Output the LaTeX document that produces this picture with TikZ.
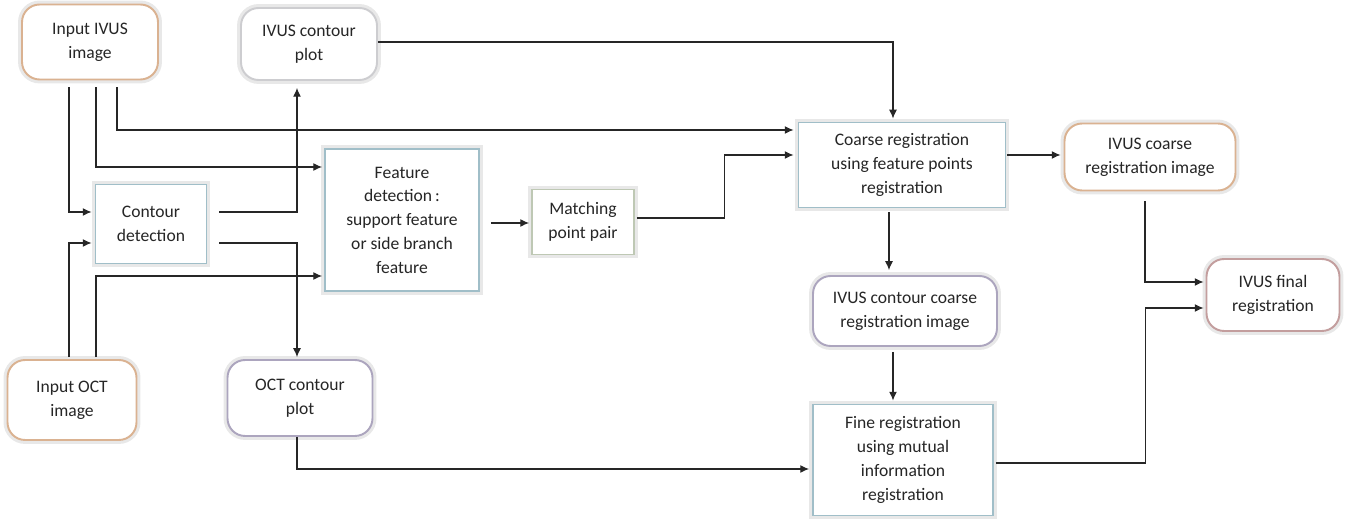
\documentclass[tikz,border=0pt]{standalone}
\usepackage{fontspec}
\setmainfont{Carlito}
\usetikzlibrary{arrows.meta, positioning, calc}
\definecolor{tanline}{RGB}{218, 178, 145}
\definecolor{greyline}{RGB}{205, 205, 208}
\definecolor{lilacline}{RGB}{172, 165, 190}
\definecolor{roseline}{RGB}{195, 158, 158}
\definecolor{tealline}{RGB}{160, 190, 200}
\definecolor{olivline}{RGB}{190, 200, 180}

\begin{document}
\begin{tikzpicture}[x=0.02cm, y=-0.02cm,
  font=\fontsize{10}{13.5}\selectfont, text=black!85,
  rbox/.style={draw=#1, line width=1.1pt, rounded corners=10pt, fill=white,
    preaction={draw=black!9, line width=4.5pt}, align=center, inner sep=2pt},
  sbox/.style={draw=#1, line width=1.1pt, fill=white,
    preaction={draw=black!9, line width=4.5pt}, align=center, inner sep=2pt},
  arr/.style={-{Latex[length=5pt, width=4.5pt]}, line width=0.6pt, black!85}]
  \useasboundingbox (0,0) rectangle (1347,519);

  \node[rbox=tanline, minimum width=2.72cm, minimum height=1.5cm] (ivusin) at (90,42) {Input IVUS\\image};
  \node[rbox=greyline, minimum width=2.72cm, minimum height=1.44cm] (ivusplot) at (309,44) {IVUS contour\\plot};
  \node[sbox=tealline, minimum width=2.22cm, minimum height=1.58cm] (contdet) at (151,224) {Contour\\detection};
  \node[sbox=tealline, minimum width=3.08cm, minimum height=2.84cm] (featdet) at (402,220) {Feature\\detection\,:\\support feature\\or side branch\\feature};
  \node[sbox=olivline, minimum width=2.04cm, minimum height=1.3cm] (match) at (583,222) {Matching\\point pair};
  \node[sbox=tealline, minimum width=4.14cm, minimum height=1.7cm] (coarse) at (902,165) {Coarse registration\\using feature points\\registration};
  \node[rbox=tanline, minimum width=3.42cm, minimum height=1.34cm] (ivuscoarse) at (1150,157) {IVUS coarse\\registration image};
  \node[rbox=lilacline, minimum width=3.68cm, minimum height=1.4cm] (contcoarse) at (905,311) {IVUS contour coarse\\registration image};
  \node[rbox=roseline, minimum width=2.66cm, minimum height=1.44cm] (final) at (1273,295) {IVUS final\\registration};
  \node[rbox=tanline, minimum width=2.58cm, minimum height=1.6cm] (octin) at (72,400) {Input OCT\\image};
  \node[rbox=lilacline, minimum width=2.9cm, minimum height=1.52cm] (octplot) at (300,398) {OCT contour\\plot};
  \node[sbox=tealline, minimum width=3.6cm, minimum height=2.22cm] (fine) at (903,460) {Fine registration\\using mutual\\information\\registration};

  \draw[arr] ($(ivusin.south)+(-21,7)$) |- ($(contdet.west)+(-3,-12)$);
  \draw[arr] ($(ivusin.south)+(6,7)$) |- ($(featdet.west)+(-2,-53)$);
  \draw[arr] ($(ivusin.south)+(27,7)$) |- ($(coarse.west)+(-4,-35)$);
  \draw[arr] ($(contdet.east)+(12,-12)$) -| ($(ivusplot.south)+(-12,7)$);
  \draw[arr] ($(contdet.east)+(12,19)$) -| ($(octplot.north)+(-3,-2)$);
  \draw[arr] ($(octin.north)+(-3,-2)$) |- ($(contdet.west)+(-3,19)$);
  \draw[arr] ($(octin.north)+(24,-2)$) |- ($(featdet.west)+(-2,56)$);
  \draw[arr] ($(featdet.east)+(11,3)$) -- ($(match.west)+(-2,1)$);
  \draw[arr] ($(match.east)+(2,-4)$) -- ++(88,0) |- ($(coarse.west)+(-4,-10)$);
  \draw[arr] ($(ivusplot.east)+(0,-2)$) -| ($(coarse.north)+(-9,-3)$);
  \draw[arr] ($(coarse.east)+(1,-10)$) -- ($(ivuscoarse.west)+(-3,-2)$);
  \draw[arr] ($(coarse.south)+(-13,4)$) -- ($(contcoarse.north)+(-16,-5)$);
  \draw[arr] ($(contcoarse.south)+(-12,5)$) -- ($(fine.north)+(-10,-3)$);
  \draw[arr] ($(octplot.south)+(-3,0)$) |- ($(fine.west)+(-3,9)$);
  \draw[arr] ($(fine.east)+(2,3)$) -- ++(150,0) |- ($(final.west)+(-2,13)$);
  \draw[arr] ($(ivuscoarse.south)+(-5,10)$) |- ($(final.west)+(-2,-13)$);
\end{tikzpicture}
\end{document}
